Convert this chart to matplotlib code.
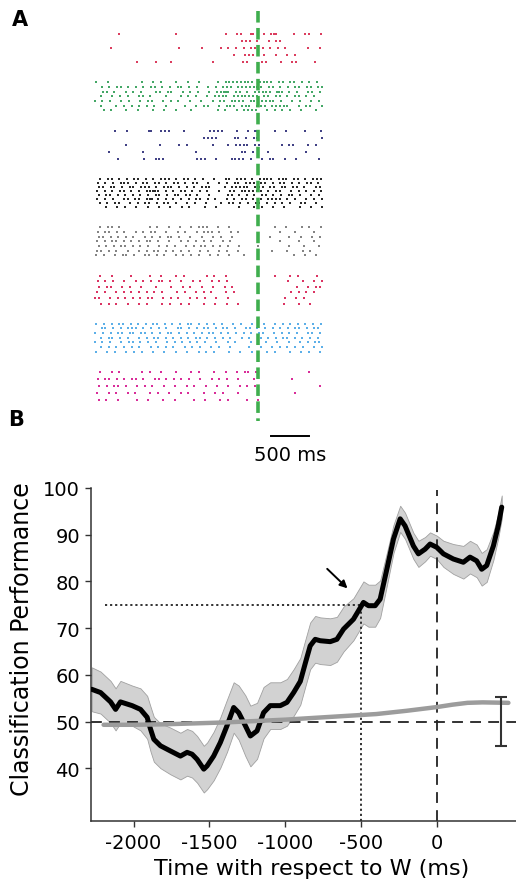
import numpy as np
import matplotlib.pyplot as plt

plt.rcParams["font.family"] = "DejaVu Sans"
plt.rcParams["axes.unicode_minus"] = False

# ---- panel A: spike rasters ----
# spikes per 50 ms bin, starting 2150 ms before W, one string per trial
BIN_MS = 50
T0 = -2150
# small per-trial alignment offsets (ms)
trial_shift_ms = [0, 18, -14, 9, -21, 13, -6, 22]

red_trials = [
    "......1... .......... .1........ ....1..11. .2..1.12.. ..1..11..1",
    ".......... .......... .......... ........11 1.1..1.11. ..........",
    "....1..... .......... ..1.....1. ...1.1.1.1 .11.1.1.1. 1.....1..1",
    ".......... .......... .......... ......1..1 11..1..1.. 1.1.......",
    ".......... .1....1... 1......... .1.......1 1...11...1 ..11....1.",
]
green_trials = [
    "1..1...... ..1..1.1.. .1..1..1.. ..1.111111 11.1111.11 .11.1.1.1.",
    ".1.1.11.1. 1.1.11.1.1 .11.1.1..1 .1.111.111 1111.11.1. 1.11.11.11",
    "..11.1..1. 1.1...11.1 1..1.1.1.. 1.1121.11. 1.11111.21 .1.1..11.1",
    ".1..1.1.1. .11.1...1. ..1.1.1..1 .1111.1111 111.11.11. 1.11.1.1..",
    "1.1.1..1.1 ..1.11..1. 1.1..1..1. .1.11.1111 .1111111.1 ..1.1..1.1",
    ".1...1.1.1 .1.1.1..1. ...1..1.11 ..1.111.11 1.111.1111 1..1.11..1",
    "..1.1...1. .1...1..1. .1...1.... ..1.1..1.1 111..1.1.1 .1..1...1.",
]
navy_trials = [
    ".....1..1. ....2..111 ...1...... 1111...1.. 1.2....1.. 1....1...1",
    ".......... .......... ........11 11....11.1 .11....... .........1",
    "........1. .......1.. ..1.1..... .1...1.111 1.11.....1 .11...1.1.",
    "...1...... ..1....... ......1... ........11 .1...1.... .....1....",
    "......1... ...1..111. .......111 ..1...1111 .1..1.11.. 1..1.....1",
]
black_trials = [
    ".1.11.1.1. 11.1.1.111 .1.11.1.1. .1..11.111 .1.1111.11 1.11.1.111",
    "1.1.1.111. 1.11.11.1. 11.1.11..1 ..1.1.11.1 11.11.1.11 .1.1.11.1.",
    ".11.11.1.1 1.111.1.11 1.1.1.1.11 1...1.1111 1.111.11.1 1.11.1..11",
    "1.1.1.11.1 .1.1121.1. 1.11.1.1.1 ..1..11.11 1111.1.11. .1.1.1.1.1",
    ".1.11.1.1. 1.1.1.11.1 .11.11.1.. 1....11.1. 1.1.11.1.1 .11.1..1.1",
    "1.1.1..11. 11.12.1.1. 1.1.1.11.1 .1..1.1.11 .1.1.1111. 1.1..1.1.1",
    ".1.1.11..1 .1.11.1.11 .1..1.1..1 ...1.11.1. 1.11.1.1.1 .1..11..1.",
    "..1..1.1.. 1..1..1..1 ..1.1...1. .1.....1.. .1.1..1..1 ...1..1..1",
]
gray_trials = [
    ".1.11.1... ....1.1..1 ..1..1.111 ..1..1.... .......1.. 1...1.1..1",
    "1.11.1.1.. 1.1.11..1. .1.1..1.11 1.1..1.1.. ........1. ..1....1..",
    ".11.1.1.1. 1..1.1.1.1 1.1..1..1. .1.1..1... ......1... .1..1..1.1",
    "1.1.11.1.1 .1.11.1..1 ..1.1.1.1. 1..1.1.... ........1. ...1...1..",
    ".1.1.1.11. 1.1.1..1.1 .1..1.1.11 .1.1.1..1. ...1...... .1...1...1",
    "11.1.1..1. .1.1.11.1. 1.1.1..1.1 ..1.1..1.. ......1... 1...1.1...",
    "1.1..1.11. 1..11.1.1. .1.1.1.1.. 1.1..1...1 .......... ..1..1..1.",
]
crimson_trials = [
    ".1..1....1 ....1..1.. .1.1.....1 .1..1..... .......1.. .1.1....1.",
    "1.1.1..1.. 1.1.1.11.1 ..1..1.1.. 1.1.1..... .......... 1...1..1.1",
    ".1.11..1.1 ..1...1... 1..1.1..1. .1..1.1... .......... ...1..1.11",
    "1.1..1.1.1 .1.1.1.1.. .1.1..1.1. 1...1.1... .......... .1.1.1.1..",
    "11..1.1.1. 1.1.11..1. 1.1..1.1.1 ..1..1.... .......... 1..1.1....",
    ".1.1.1..1. .1.1...1.1 ..1.1...1. .1..1..1.. .........1 ...1..1...",
]
blue_trials = [
    "1.1.1.11.1 .1.1.11.1. 1.1.11.1.1 .1.1..1.1. .1..1..1.1 .1.1.1.1.1",
    ".11.1.1.11 1.1.1.1.1. .11.1.1.11 .1.11.1..1 1.1.1.1.1. 1.11.1.11.",
    "1.1.1.11.1 1.11.1.1.1 1.1.1.1.1. 11.1.1.1.1 .1.11..1.1 .1.1..11.1",
    ".1.11.1.1. .1.1.11.1. 1.1.1.11.1 .1.1.1..1. 1..1.1.1.1 1.1.1.1.1.",
    "1.1.1..1.1 1.1.1.1..1 .1.1.1.1.1 ..1..1.1.. .1.1.1..1. .1..1.1.11",
    ".1.1.1.1.1 .1..1.1.1. 1..1.1.1.. 1.1..1.... 1..1..1.1. 1.1.1..1.1",
    "1..1.1..1. 1.1..1..1. .1..1..1.1 .1...1..1. .1...1.1.. .1..1.1..1",
]
magenta_trials = [
    ".1..1.1... ..1.1..1.. .1...1.1.. .1..1..1.1 1.1....... ......1...",
    "1.11.1.1.1 1.1..11.1. 1.1.1..1.. 1.1.1..1.. .1........ .1........",
    ".1.1.11.1. .1.1.1..1. .1..1.1..1 ..1..1..1. 1.1....... .........1",
    "1..1.1..1. 1...1.1..1 ..1.1...1. .1.1...1.. .......... ..1.......",
    ".1.1..1... .1..1...1. .1....1..1 ...1.1.... 1..1...... ..........",
]

raster_rows = [red_trials, green_trials, navy_trials, black_trials,
               gray_trials, crimson_trials, blue_trials, magenta_trials]
raster_colors = ["#d8284e", "#2f9e55", "#2c2c78", "#111111",
                 "#777777", "#d81e52", "#4aa6e6", "#d5168e"]

# ---- panel B: classification performance ----
t_mean = [-2275, -2217, -2151, -2118, -2086, -2009, -1954, -1910, -1888, -1866,
          -1822, -1757, -1691, -1647, -1614, -1581, -1537, -1515, -1472, -1428,
          -1384, -1340, -1307, -1263, -1230, -1186, -1143, -1099, -1033, -989,
          -945, -901, -868, -836, -803, -770, -704, -660, -616, -551,
          -485, -452, -408, -375, -331, -287, -243, -211, -156, -123,
          -79, -46, -2, 42, 107, 173, 217, 261, 294, 327,
          371, 403, 426]
perf_mean = [56.9, 56.2, 54.2, 52.6, 54.2, 53.4, 52.6, 50.9, 48.4, 46.2,
             44.8, 43.7, 42.6, 43.4, 43.0, 41.9, 39.8, 40.5, 42.6, 45.5,
             49.1, 53.0, 51.9, 49.1, 46.9, 48.0, 51.9, 53.4, 53.4, 54.1,
             56.2, 58.6, 62.5, 66.2, 67.6, 67.3, 67.1, 67.6, 69.8, 71.9,
             75.5, 74.8, 74.8, 76.2, 82.6, 89.1, 93.4, 91.9, 87.6, 85.9,
             86.9, 88.0, 87.3, 85.9, 84.8, 84.1, 85.2, 84.4, 82.6, 83.4,
             87.6, 91.9, 95.9]
perf_ci = [4.7, 4.5, 4.5, 4.5, 4.5, 4.3, 4.5, 4.6, 4.8, 4.8,
           4.8, 5.0, 5.0, 5.0, 5.0, 5.0, 5.0, 5.0, 5.2, 5.4,
           5.6, 5.4, 5.8, 6.5, 6.5, 6.0, 5.5, 5.0, 5.0, 5.0,
           5.0, 5.0, 5.0, 5.0, 5.0, 5.0, 5.0, 4.8, 4.8, 4.5,
           4.5, 4.5, 4.5, 4.0, 3.5, 3.0, 2.8, 2.8, 2.8, 2.8,
           2.6, 2.5, 2.5, 2.8, 3.2, 3.5, 3.5, 3.5, 3.5, 3.5,
           3.0, 2.6, 2.5]

t_chance = [-2197, -2000, -1800, -1600, -1400, -1200, -1000, -800, -600, -400,
            -200, 0, 100, 200, 300, 470]
perf_chance = [49.3, 49.3, 49.4, 49.6, 49.8, 50.1, 50.4, 50.8, 51.2, 51.6,
               52.3, 53.1, 53.6, 54.0, 54.1, 54.0]

chance_level = 50
chance_spread = 5.2
t_threshold, perf_threshold = -500, 75


def spike_times(pattern, shift=0):
    pattern = pattern.replace(" ", "")
    times = []
    for k, ch in enumerate(pattern):
        n = 0 if ch == "." else int(ch)
        for i in range(n):
            times.append(T0 + shift + BIN_MS * (k + (i + 0.5) / n))
    return times


fig = plt.figure(figsize=(5.16, 8.87), dpi=100)

# raster panel, one y unit per neuron
axa = fig.add_axes([80 / 516, 417 / 887, 260 / 516, 470 / 887])
axa.set_xlim(-2342, 1079)
axa.set_ylim(9.006, -0.7246)
axa.axis("off")

for r, (trials, color) in enumerate(zip(raster_rows, raster_colors)):
    n = len(trials)
    for j, pat in enumerate(trials):
        ts = spike_times(pat, trial_shift_ms[j])
        y = r + 0.58 * j / (n - 1)
        axa.scatter(ts, [y] * len(ts), s=3.4, c=color, marker="s",
                    linewidths=0, alpha=0.9)

axa.plot([0, 0], [-0.476, 8.01], color="#3fae4e", lw=2.6, dashes=(3.2, 1.5))
axa.plot([171, 671], [8.323, 8.323], color="black", lw=1.4)
axa.text(421, 8.70, "500 ms", fontsize=14, ha="center", va="center")

fig.text(12 / 516, 1 - 10 / 887, "A", fontsize=15, fontweight="bold", va="top")
fig.text(8 / 516, 1 - 410 / 887, "B", fontsize=15, fontweight="bold", va="top")

# decoding panel
axb = fig.add_axes([91 / 516, 65 / 887, 425 / 516, 333 / 887])
m = np.array(perf_mean)
ci = np.array(perf_ci)
axb.fill_between(t_mean, m - ci, m + ci, facecolor="#d2d2d2",
                 edgecolor="#a0a0a0", linewidth=0.6, zorder=1)
axb.plot(t_mean, perf_mean, color="black", lw=3.6, zorder=3,
         solid_joinstyle="round", solid_capstyle="round")
axb.plot(t_chance, perf_chance, color="#9c9c9c", lw=3.2, zorder=4,
         solid_capstyle="round")

axb.axhline(chance_level, color="#222222", lw=1.3, dashes=(6, 4), zorder=2)
axb.plot([0, 0], [28.7, 99.5], color="#222222", lw=1.3, dashes=(6, 4), zorder=2)
axb.plot([-2190, t_threshold], [perf_threshold, perf_threshold],
         color="#222222", lw=1.3, ls=(0, (1.2, 1.6)), zorder=2)
axb.plot([t_threshold, t_threshold], [28.7, perf_threshold],
         color="#222222", lw=1.3, ls=(0, (1.2, 1.6)), zorder=2)

axb.errorbar([420], [chance_level], yerr=[chance_spread], color="#333333",
             capsize=4, lw=1.5, capthick=1.5, zorder=5)
axb.annotate("", xy=(-577, 78.1), xytext=(-737, 83.1),
             arrowprops=dict(arrowstyle="-|>", color="black", lw=1.4,
                             mutation_scale=11))

axb.set_xlim(-2280, 520)
axb.set_ylim(28.7, 100)
axb.set_xticks([-2000, -1500, -1000, -500, 0])
axb.set_yticks([40, 50, 60, 70, 80, 90, 100])
axb.tick_params(labelsize=14, length=4, width=1, color="#333333", pad=4)
axb.tick_params(axis="x", pad=5)
for side in ["top", "right"]:
    axb.spines[side].set_visible(False)
for side in ["left", "bottom"]:
    axb.spines[side].set_color("#333333")
    axb.spines[side].set_linewidth(1.1)
axb.set_xlabel("Time with respect to W (ms)", fontsize=16)
axb.set_ylabel("Classification Performance", fontsize=17)
axb.xaxis.set_label_coords(0.518, -0.112)
axb.yaxis.set_label_coords(-0.135, 0.55)

fig.savefig("out.png", dpi=100)
